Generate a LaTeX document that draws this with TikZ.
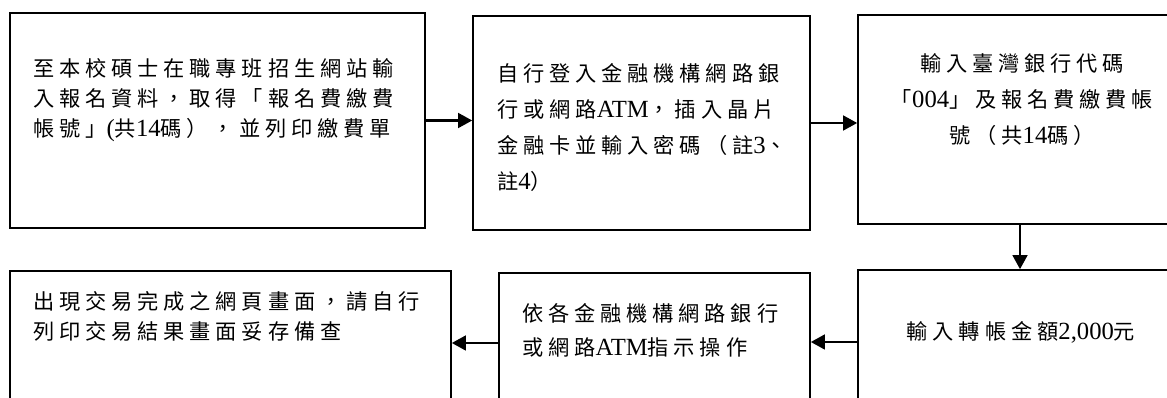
\documentclass[tikz,border=0pt]{standalone}
\usepackage{fontspec}
\setmainfont{Liberation Serif}
\newfontfamily\cjk[LetterSpace=23, Scale=0.86]{Noto Sans CJK TC}
\usetikzlibrary{arrows.meta}
\newcommand{\zh}[1]{{\cjk #1}}

\begin{document}
\begin{tikzpicture}[x=0.75pt, y=-0.75pt,
    box/.style={draw, line width=1.2pt, inner sep=0pt},
    lbl/.style={anchor=west, align=left, inner sep=0pt, font=\fontsize{18.5pt}{22.5pt}\selectfont},
    flow/.style={-{Triangle[length=10.5pt, width=11pt]}, line width=1.8pt}]
    \useasboundingbox (0,0) rectangle (1167,398);
    \clip (0,0) rectangle (1167,398);

    %%  Top row
    % Boxes
    \node [box, minimum width=311.25pt, minimum height=161.25pt] (b1) at (217.5, 120.5) {};
    \node [box, minimum width=252.75pt, minimum height=160.5pt] (b2) at (641.5, 123) {};
    \node [box, minimum width=243pt, minimum height=156.75pt] (b3) at (1020, 119.5) {};
    % Texts
    \node [lbl] (t1) at (33, 100) {\zh{至本校碩士在職專班招生網站輸}\\
        \zh{入報名資料，取得「報名費繳費}\\
        \zh{帳號」}(\zh{共}14\zh{碼），並列印繳費單}};
    \node [lbl, font=\fontsize{18.5pt}{27pt}\selectfont] (t2) at (497, 128) {\zh{自行登入金融機構網路銀}\\
        \zh{行或網路}ATM\zh{，插入晶片}\\
        \zh{金融卡並輸入密碼（註}3\zh{、}\\
        \zh{註}4\zh{）}};
    \node [lbl, anchor=center, align=center, font=\fontsize{18.5pt}{27pt}\selectfont] (t3) at (1022, 100) {\zh{輸入臺灣銀行代碼}\\
        \zh{「}004\zh{」及報名費繳費帳}\\
        \zh{號（共}14\zh{碼）}};

    %%  Bottom row
    % Boxes
    \node [box, minimum width=243pt, minimum height=108pt] (b4) at (1020, 342) {};
    \node [box, minimum width=233.25pt, minimum height=105pt] (b5) at (654.5, 343) {};
    \node [box, minimum width=330.75pt, minimum height=109.5pt] (b6) at (230.5, 344) {};
    % Texts
    \node [lbl, anchor=center] (t4) at (1021, 332) {\zh{輸入轉帳金額}2,000\zh{元}};
    \node [lbl, font=\fontsize{18.5pt}{25.5pt}\selectfont] (t5) at (522, 330) {\zh{依各金融機構網路銀行}\\
        \zh{或網路}ATM\zh{指示操作}};
    \node [lbl] (t6) at (33, 316) {\zh{出現交易完成之網頁畫面，請自行}\\
        \zh{列印交易結果畫面妥存備查}};

    %%  Flow arrows
    \draw [flow] (b1.east) -- (b1.east -| b2.west);
    \draw [flow] (b2.east) -- (b2.east -| b3.west);
    \draw [flow] (b3.south) -- (b4.north);
    \draw [flow] (b4.west) -- (b4.west -| b5.east);
    \draw [flow] (b5.west) -- (b5.west -| b6.east);

\end{tikzpicture}
\end{document}
